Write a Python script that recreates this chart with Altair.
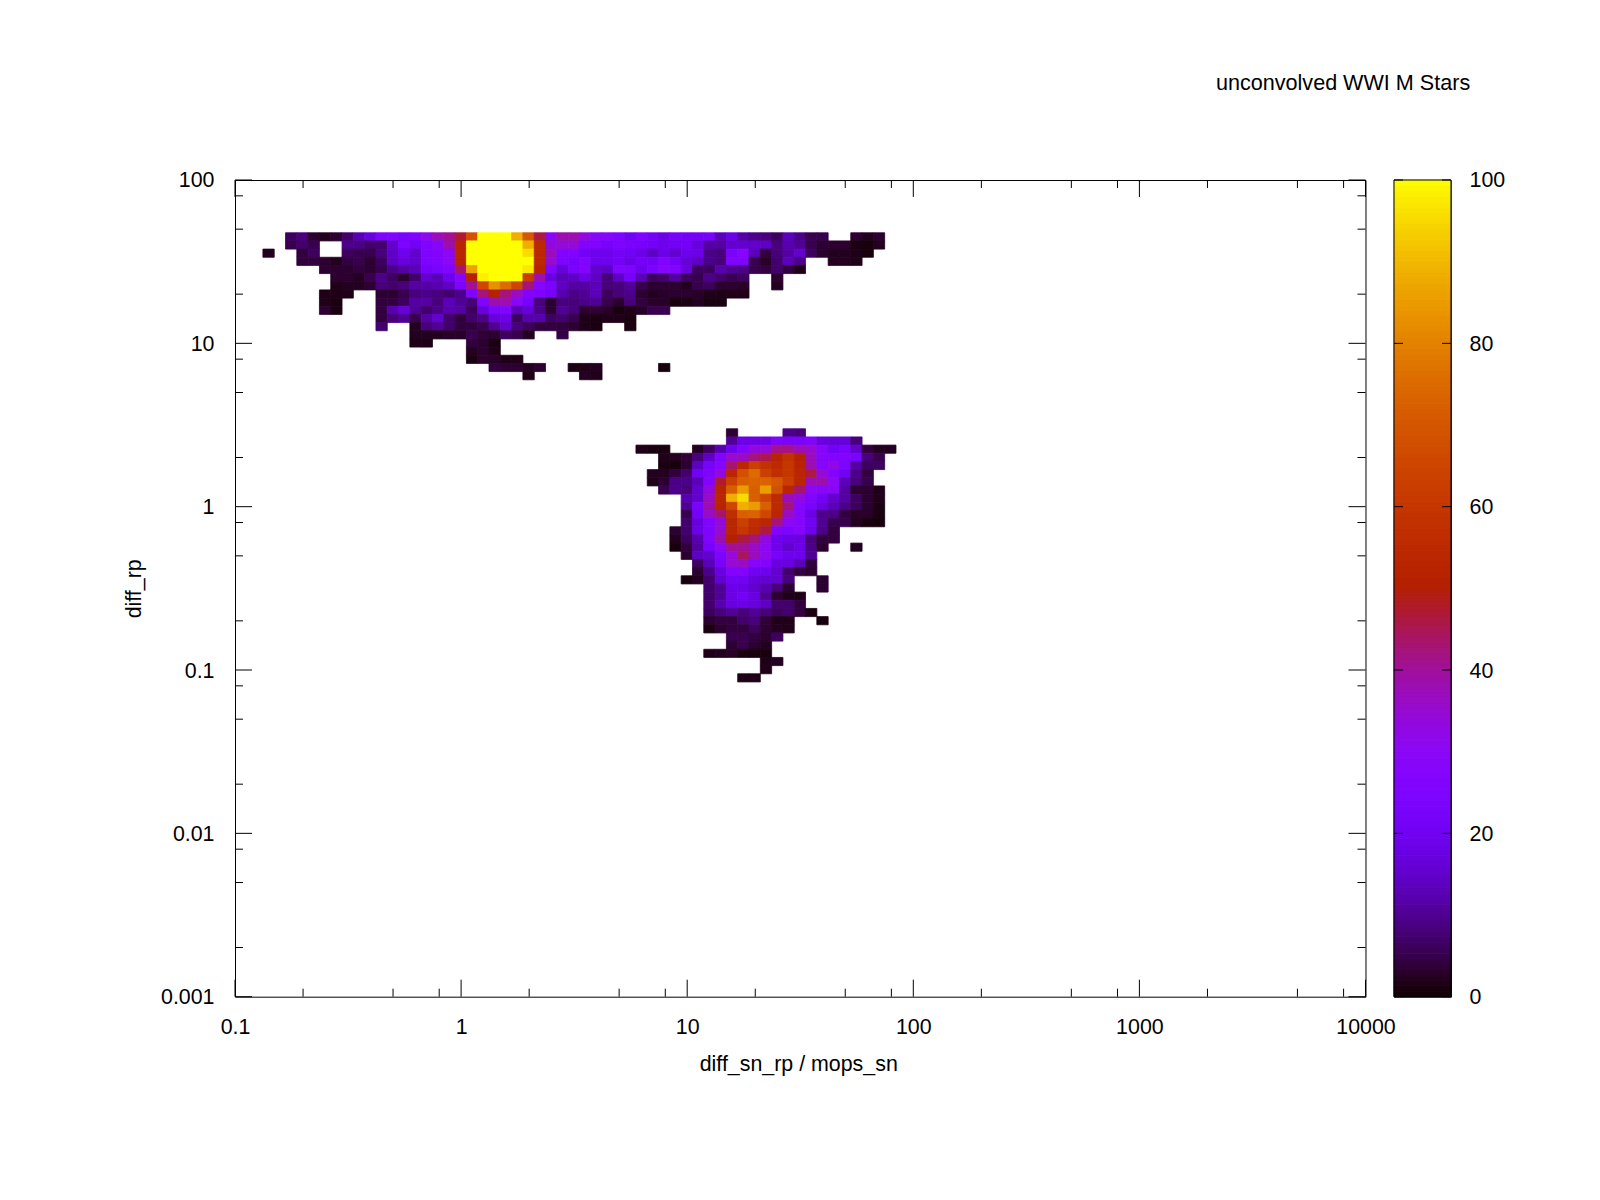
import math
import altair as alt
import pandas as pd

TITLE = "unconvolved WWI M Stars"
X_TITLE = "diff_sn_rp / mops_sn"
Y_TITLE = "diff_rp"
FONT = "Liberation Sans"
FS = 21.4

X_EDGE0 = -0.7766   # log10 of the left edge of grid column 0
Y_EDGE0 = 1.677     # log10 of the top edge of grid row 0
BIN = 0.05

# row index -> (first column, values left to right; None = empty bin)
rows_upper = {
 0: (0, [6,8,3,2,3,7,12,17,24,25,23,25,31,37,40,47,68,100,100,100,88,70,46,29,38,38,33,28,27,24,20,24,21,18,22,21,21,22,13,18,11,9,8,6,13,9,5,5,None,None,3,2,3]),
 1: (0, [5,7,5,None,None,9,9,7,7,15,24,20,25,28,38,52,100,100,100,100,100,88,55,33,34,34,25,25,22,24,23,22,21,19,20,21,17,11,11,15,15,15,14,8,12,10,5,3,3,3,1,0.5,2]),
 2: (-2,[2,None,None,4,6,None,None,6,5,5,8,14,19,15,24,26,30,53,100,100,100,100,100,95,54,37,26,25,20,19,19,21,20,18,14,18,15,19,18,9,8,23,27,13,4,8,11,15,6,3,2,2,1.5,0.5]),
 3: (1, [4,4,3,2,4,5,3,6,14,17,15,24,25,30,52,100,100,100,100,100,100,54,35,24,22,25,19,19,21,18,21,20,25,21,16,14,9,8,25,25,5,2.5,7,13,9,None,None,2,2,1.5]),
 4: (3, [3,3,3,4,3,5,9,11,13,21,23,25,43,86,100,100,100,100,97,52,25,16,23,26,15,14,25,24,19,23,27,26,17,6,6,12,10,9,5,4,7,4,1.5]),
 5: (4, [3,3,2,5,9,6,3,7,15,13,19,28,51,98,100,100,100,62,38,17,13,14,18,14,8,14,22,13,6,7,11,6,5,9,7,5,6,None,None,3]),
 6: (4, [1.5,2,2,3,8,7,8,11,11,12,14,24,40,65,83,75,65,42,27,23,14,11,11,13,8,8,10,5,3,3,3,2,5,6,3,3,2.5,None,None,2]),
 7: (3, [1.5,1.5,1.5,None,None,3,3,5,8,9,8,7,9,25,42,51,42,36,26,24,22,12,9,10,13,6,8,9,3,2,2.5,3,3,2.5,1.5,1.5,1.5,1.5]),
 8: (3, [1.5,1,None,None,None,4,4,6,11,11,8,13,10,8,26,38,38,29,22,8,3,8,8,9,10,5,3,8,4,2.5,2.5,0.8,1,2,1,1]),
 9: (3, [3,1,None,None,None,4,12,16,10,7,9,12,11,6,17,24,25,13,16,9,3,10,8,3,3.5,2.5,0.8,1.5,2.5,5,5]),
 10: (8, [4,8,10,5,11,15,7,4,7,9,17,18,6,12,12,6,7,5,1.5,1,1.5,1.5,1]),
 11: (8, [7,None,None,2,8,10,7,4,4,5,10,15,8,6,4,4,4,3,1.5,1,None,None,1]),
 12: (11,[2,2,2,2.5,2.5,5,3.5,3,6,5,2,None,None,4.5]),
 13: (11,[1.5,1.5,None,None,None,4,3,1]),
 14: (16,[2,3,1.5]),
 15: (16,[1,3,2.5,1.5,1.5]),
 16: (18,[4,3,3,2,3,None,None,1,1.5,2,None,None,None,None,None,0.5]),
 17: (21,[1.5,None,None,None,None,2,1.5]),
}

rows_lower = {
 24: (39,[3,None,None,None,None,9,8]),
 25: (39,[10,18,18,18,24,23,23,25,17,16,16,8]),
 26: (31,[1.5,1,1,None,None,2,6,12,19,26,33,33,41,41,37,35,27,20,23,15,4,2,2]),
 27: (33,[1.5,2,3.5,8,14,25,35,36,42,45,52,58,51,37,27,26,26,23,8,5]),
 28: (33,[1,0.3,3,14,22,27,43,53,63,58,55,60,52,38,27,32,24,11,6,6]),
 29: (32,[2,2,4,7,20,24,33,53,68,75,63,57,60,53,46,34,26,20,9,4]),
 30: (32,[1.5,3,9,9,13,26,47,63,72,73,73,70,62,53,37,38,30,13,8,5]),
 31: (33,[5,9,8,15,33,52,72,85,72,85,68,53,43,30,29,29,11,3,3,1.5]),
 32: (35,[12,15,36,53,88,95,72,65,55,37,33,25,21,15,11,6,3,1.5]),
 33: (35,[10,23,38,52,65,88,85,72,55,42,27,23,18,13,9,6,3,1]),
 34: (35,[5,21,36,43,56,72,73,65,53,36,27,18,9,9,4,2.5,2.5,1]),
 35: (35,[7,17,25,33,53,63,56,53,42,30,27,20,10,5,5,2,0.7,0.4]),
 36: (34,[3,7,18,25,35,53,60,55,46,26,24,27,19,9,4]),
 37: (34,[2,6,12,25,38,50,46,42,33,19,18,17,8,4,4]),
 38: (34,[0.7,4,11,22,30,40,40,36,30,19,15,18,9,3,None,None,2]),
 39: (35,[3,14,15,24,34,44,37,31,22,19,19,10]),
 40: (36,[6,13,22,34,36,27,26,17,17,13,4]),
 41: (36,[3,9,17,26,26,20,19,15,7,4,3]),
 42: (35,[0.5,2,7,15,20,20,16,15,15,8,None,None,3]),
 43: (37,[7,10,18,18,15,12,8,3,None,None,3]),
 44: (37,[7,10,18,21,17,10,3,1.5,1.5]),
 45: (37,[7,12,17,18,17,14,7,7,4]),
 46: (37,[6,8,10,8,10,8,6,7,4,1]),
 47: (37,[3,4,4,7,8,3.5,1.5,1.5,None,None,0.8]),
 48: (37,[1,3,4,4,6,3,2,1.5]),
 49: (39,[5,5,4,3,6]),
 50: (39,[3,5,3,2]),
 51: (37,[1.5,2,2.5,1,0.5,0.7]),
 52: (42,[1.5,2]),
 53: (42,[1.5]),
 54: (40,[1.5,1.5]),
}

x_major = [0.1, 1, 10, 100, 1000, 10000]
x_minor = [m * d for d in (0.1, 1, 10, 100, 1000) for m in (2, 5, 8)]
y_major = [0.001, 0.01, 0.1, 1, 10, 100]
y_minor = [m * d for d in (0.001, 0.01, 0.1, 1, 10) for m in (2, 5, 8)]
cb_ticks = [0, 20, 40, 60, 80, 100]
CB_STEPS = 150

W, H = 1130.5, 816.7
CB_W = 57


def hex_of(p):
    r = math.sqrt(p)
    g = p ** 3
    b = max(0.0, math.sin(2 * math.pi * p))
    return "#%02x%02x%02x" % tuple(round(c * 255) for c in (r, g, b))

stops = list(range(0, 101))
colors = [hex_of(s / 100) for s in stops]
color_scale = alt.Scale(domain=stops, range=colors)

cells = []
for table in (rows_upper, rows_lower):
    for r, (start, vals) in table.items():
        for i, v in enumerate(vals):
            if v is None:
                continue
            k = start + i
            cells.append({
                "x0": 10 ** (X_EDGE0 + BIN * k), "x1": 10 ** (X_EDGE0 + BIN * (k + 1)),
                "y0": 10 ** (Y_EDGE0 - BIN * r), "y1": 10 ** (Y_EDGE0 - BIN * (r + 1)),
                "v": v})
df = pd.DataFrame(cells)

xs = alt.Scale(type="log", domain=[0.1, 10000], nice=False)
ys = alt.Scale(type="log", domain=[0.001, 100], nice=False)
x_axis = alt.Axis(values=x_major, ticks=False, grid=False, domain=False,
                  labelExpr="format(datum.value, '~g')", labelPadding=20,
                  titlePadding=15, titleX=W / 2 - 2, labelFlush=False, labelOverlap=False)
y_axis = alt.Axis(values=y_major, ticks=False, grid=False, domain=False,
                  labelExpr="format(datum.value, '~g')", labelPadding=21, labelOffset=1,
                  titlePadding=16, labelOverlap=False)

heat = alt.Chart(df).mark_rect(strokeWidth=0.8).encode(
    x=alt.X("x0:Q", scale=xs, title=X_TITLE, axis=x_axis),
    x2="x1:Q",
    y=alt.Y("y0:Q", scale=ys, title=Y_TITLE, axis=y_axis),
    y2="y1:Q",
    color=alt.Color("v:Q", scale=color_scale, legend=None),
    stroke=alt.Stroke("v:Q", scale=color_scale, legend=None),
)


def x_ticks(values, length):
    d = pd.DataFrame({"v": values})
    enc = alt.X("v:Q", scale=xs, title=X_TITLE, axis=x_axis)
    return [
        alt.Chart(d).mark_rule(color="black", strokeWidth=1).encode(
            x=enc, y=alt.value(H), y2=alt.value(H - length)),
        alt.Chart(d).mark_rule(color="black", strokeWidth=1).encode(
            x=enc, y=alt.value(0), y2=alt.value(length)),
    ]


def y_ticks(values, length):
    d = pd.DataFrame({"v": values})
    enc = alt.Y("v:Q", scale=ys, title=Y_TITLE, axis=y_axis)
    return [
        alt.Chart(d).mark_rule(color="black", strokeWidth=1).encode(
            y=enc, x=alt.value(0), x2=alt.value(length)),
        alt.Chart(d).mark_rule(color="black", strokeWidth=1).encode(
            y=enc, x=alt.value(W), x2=alt.value(W - length)),
    ]


main = alt.layer(
    heat,
    *x_ticks(x_major, 17), *x_ticks(x_minor, 8),
    *y_ticks(y_major, 17), *y_ticks(y_minor, 8),
).resolve_scale(color="shared", stroke="shared").properties(width=W, height=H)

cb_df = pd.DataFrame({
    "lo": [100 * i / CB_STEPS for i in range(CB_STEPS)],
    "hi": [100 * (i + 1) / CB_STEPS for i in range(CB_STEPS)],
})
cb_y = alt.Scale(domain=[0, 100], nice=False)
cb_axis = alt.Axis(orient="right", values=cb_ticks, ticks=False, grid=False,
                   domain=False, labelPadding=18, labelOffset=1, labelOverlap=False)
cb_bar = alt.Chart(cb_df).mark_rect(strokeWidth=1).encode(
    x=alt.value(0), x2=alt.value(CB_W),
    y=alt.Y("lo:Q", scale=cb_y, title=None, axis=cb_axis),
    y2="hi:Q",
    color=alt.Color("lo:Q", scale=color_scale, legend=None),
    stroke=alt.Stroke("lo:Q", scale=color_scale, legend=None),
)
cb_tick_df = pd.DataFrame({"v": cb_ticks})
cb_enc = alt.Y("v:Q", scale=cb_y, title=None, axis=cb_axis)
cb_left = alt.Chart(cb_tick_df).mark_rule(color="black", strokeWidth=1).encode(
    y=cb_enc, x=alt.value(0), x2=alt.value(9))
cb_right = alt.Chart(cb_tick_df).mark_rule(color="black", strokeWidth=1).encode(
    y=cb_enc, x=alt.value(CB_W), x2=alt.value(CB_W - 9))
cb_box = alt.Chart(cb_tick_df.head(1)).mark_rect(
    fillOpacity=0, fill="white", stroke="black", strokeWidth=1).encode(
    x=alt.value(0), x2=alt.value(CB_W), y=alt.value(0), y2=alt.value(H))
colorbar = alt.layer(cb_bar, cb_left, cb_right, cb_box).properties(width=CB_W, height=H)

chart = alt.hconcat(main, colorbar, spacing=28, bounds="flush").properties(
    title=alt.TitleParams(text=TITLE, anchor="end", font=FONT, fontSize=21.6,
                          fontWeight="normal", color="black", offset=75, dx=-35),
    padding={"left": 114, "top": 64, "right": 5, "bottom": 5},
    background="white",
).configure_view(stroke="black", strokeWidth=1).configure_axis(
    labelFont=FONT, labelFontSize=FS, labelColor="black",
    titleFont=FONT, titleFontSize=FS, titleColor="black", titleFontWeight="normal",
)

chart.save("out.html", embed_options={"renderer": "svg", "actions": False})
